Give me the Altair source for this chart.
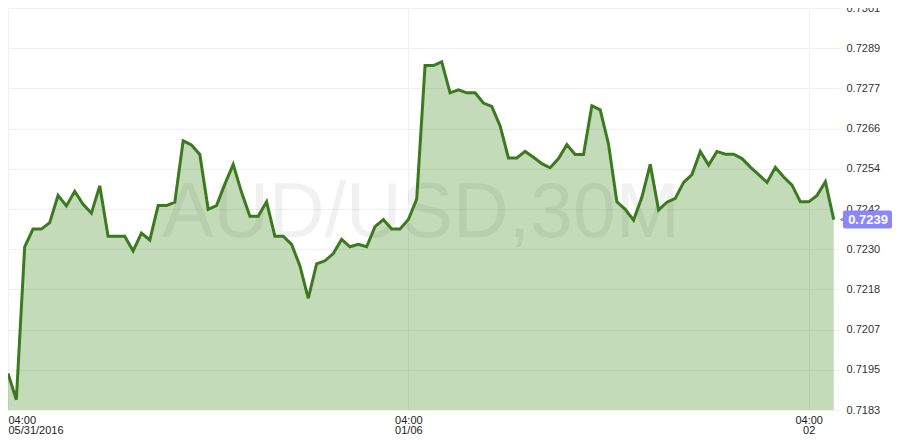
import altair as alt
import pandas as pd

# AUD/USD 30-minute closes, starting 2016-05-31 04:00
prices = [
    0.71937, 0.71860, 0.72309, 0.72361, 0.72361, 0.72380, 0.72460, 0.72429, 0.72472, 0.72434,
    0.72408, 0.72488, 0.72340, 0.72340, 0.72340, 0.72297, 0.72349, 0.72329, 0.72430, 0.72430,
    0.72440, 0.72620, 0.72608, 0.72580, 0.72419, 0.72430, 0.72493, 0.72551, 0.72469, 0.72399,
    0.72399, 0.72441, 0.72340, 0.72340, 0.72316, 0.72253, 0.72158, 0.72259, 0.72268, 0.72289,
    0.72331, 0.72309, 0.72316, 0.72309, 0.72368, 0.72389, 0.72361, 0.72361, 0.72389, 0.72449,
    0.72841, 0.72841, 0.72852, 0.72761, 0.72770, 0.72761, 0.72761, 0.72731, 0.72721, 0.72664,
    0.72570, 0.72570, 0.72589, 0.72572, 0.72553, 0.72541, 0.72568, 0.72609, 0.72580, 0.72580,
    0.72723, 0.72711, 0.72610, 0.72441, 0.72419, 0.72387, 0.72455, 0.72551, 0.72417, 0.72440,
    0.72451, 0.72498, 0.72521, 0.72589, 0.72549, 0.72589, 0.72581, 0.72581, 0.72568, 0.72543,
    0.72521, 0.72498, 0.72542, 0.72514, 0.72490, 0.72441, 0.72441, 0.72460, 0.72500, 0.72389,
]
start_time = "2016-05-31 04:00"
bar_minutes = 30

y_ticks = [0.7183, 0.71948, 0.72066, 0.72184, 0.72302, 0.7242,
           0.72538, 0.72656, 0.72774, 0.72892, 0.7301]
y_domain = [0.7183, 0.7301]

x_tick_times = ["2016-05-31 04:00", "2016-06-01 04:00", "2016-06-02 04:00"]
x_tick_line1 = ["04:00", "04:00", "04:00"]
x_tick_line2 = ["05/31/2016", "01/06", "02"]

watermark = "AUD/USD,30M"

W, H = 832, 402
FONT = "Liberation Sans"


def ms(ts):
    return int(pd.Timestamp(ts, tz="UTC").value // 10**6)


t0 = pd.Timestamp(start_time, tz="UTC")
times = [int((t0 + pd.Timedelta(minutes=bar_minutes * i)).value // 10**6)
         for i in range(len(prices))]
df = pd.DataFrame({"t": times, "price": prices})
last = df.tail(1)

x_domain = [ms(start_time), ms(start_time) + int(99.75 * bar_minutes * 60000)]
x_vals = [ms(t) for t in x_tick_times]

expr = "''"
for v, a, b in reversed(list(zip(x_vals, x_tick_line1, x_tick_line2))):
    expr = f"abs(time(datum.value) - {v}) < 1000 ? ['{a}', '{b}'] : ({expr})"

x_enc = alt.X(
    "t:T",
    scale=alt.Scale(domain=x_domain),
    axis=alt.Axis(values=x_vals, labelExpr=expr, domain=False, ticks=False,
                  labelPadding=4, labelFontSize=11, labelLineHeight=10,
                  labelFont=FONT, labelColor="#222", labelFlush=True,
                  labelOverlap=False, gridColor="#f0f0f0", title=None),
)
y_enc = alt.Y(
    "price:Q",
    scale=alt.Scale(domain=y_domain, zero=False, nice=False),
    axis=alt.Axis(orient="right", values=y_ticks, format=".4f", domain=False,
                  ticks=False, labelPadding=6, labelFontSize=11, labelFont=FONT,
                  labelColor="#333", gridColor="#f0f0f0", title=None,
                  labelOverlap=False),
)

base = alt.Chart(df)

wm = alt.Chart(pd.DataFrame({"label": [watermark]})).mark_text(
    font=FONT, fontSize=77, color="#000", opacity=0.05, align="center",
    baseline="alphabetic"
).encode(text="label:N", x=alt.value(413), y=alt.value(229))

area = base.mark_area(color="#3c8c1e", opacity=0.31, clip=True).encode(x=x_enc, y=y_enc)
line = base.mark_line(color="#3b7a1f", strokeWidth=3, clip=True).encode(x="t:T", y="price:Q")

BOX = "#8b87f8"
box = alt.Chart(last).mark_rect(
    color=BOX, cornerRadius=2, yOffset=-9, y2Offset=9
).encode(x=alt.value(W + 3), x2=alt.value(W + 52), y="price:Q", y2="price:Q")
arrow = alt.Chart(last).mark_point(
    shape="triangle-left", filled=True, color=BOX, opacity=1, size=60, strokeWidth=0
).encode(x=alt.value(W + 3), y="price:Q")
box_text = alt.Chart(last).mark_text(
    font=FONT, fontSize=13, fontWeight="bold", color="white", align="center",
    baseline="middle"
).encode(x=alt.value(W + 28), y="price:Q", text=alt.Text("price:Q", format=".4f"))

chart = alt.layer(area, wm, line, box, arrow, box_text).properties(
    width=W, height=H,
    autosize=alt.AutoSizeParams(type="none"),
    padding={"left": 0, "top": 0, "right": 52, "bottom": 24},
    background="white",
).configure_view(stroke=None)

chart.save("out.html", embed_options={"renderer": "svg", "actions": False})
